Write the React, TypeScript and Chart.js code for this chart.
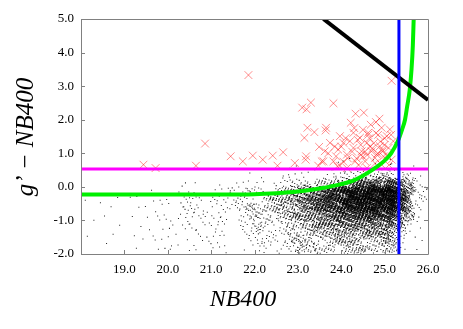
import React, { useEffect, useRef } from "react";
import { Chart, registerables } from "chart.js";

Chart.register(...registerables);

// ---- axis ticks ----
const xTickValues = [19, 20, 21, 22, 23, 24, 25, 26];
const yTickValues = [-2, -1, 0, 1, 2, 3, 4, 5];

// ---- red crosses (candidates): NB400 magnitude, g' - NB400 colour ----
const crossX = [
  21.86, 19.44, 19.72, 20.65, 20.86, 21.45, 21.73, 21.96, 22.19, 22.42, 22.66, 22.53,
  22.93, 23.18, 23.10, 23.20, 23.22, 23.15, 23.30, 23.82, 23.38, 23.65, 23.64, 23.49,
  23.62, 23.47, 23.59, 23.91, 24.33, 24.52, 24.22, 24.88, 24.80, 25.16, 23.19, 23.55,
  23.97, 24.05, 23.93, 23.88, 23.97, 24.28, 24.43, 24.59, 24.62, 24.93, 25.12, 25.05,
  24.20, 24.28, 24.13, 24.47, 24.70, 24.82, 24.89, 25.09, 25.20, 24.32, 24.55, 24.78,
  24.97, 24.93, 25.16, 24.59, 24.13, 24.84, 23.82, 23.74, 24.38, 24.66, 24.50, 25.00,
  24.00, 24.10, 24.25, 24.35, 24.45, 24.55, 24.65, 24.75, 24.85, 24.95, 25.05, 25.15,
  24.05, 24.40, 24.60, 24.72, 24.90, 25.10, 24.30, 24.50, 24.68, 24.80, 25.00, 24.15,
  24.45, 24.62, 24.78, 24.95, 23.70, 23.85,
];
const crossY = [
  3.33, 0.66, 0.56, 0.63, 1.29, 0.91, 0.76, 0.93, 0.81, 0.93, 1.03, 0.63,
  0.71, 0.81, 2.36, 2.31, 1.76, 1.46, 2.51, 2.49, 1.63, 1.76, 1.68, 1.19,
  1.06, 0.63, 0.76, 0.61, 2.18, 2.21, 1.91, 2.03, 1.93, 3.16, 0.91, 0.76,
  1.51, 1.31, 1.11, 0.91, 0.63, 1.61, 1.46, 1.31, 1.61, 1.76, 1.71, 1.51,
  1.36, 1.16, 0.96, 1.06, 1.06, 0.96, 1.21, 1.16, 1.36, 0.76, 0.76, 0.86,
  0.91, 0.66, 0.81, 0.56, 0.56, 1.00, 0.76, 1.31, 1.40, 1.20, 0.90, 1.45,
  1.20, 1.45, 1.05, 0.85, 1.25, 1.05, 1.45, 1.30, 1.55, 1.10, 0.95, 1.55,
  0.75, 0.65, 0.95, 1.15, 1.35, 0.65, 1.75, 1.70, 1.85, 1.60, 1.25, 0.85,
  0.95, 1.55, 0.70, 1.05, 1.00, 1.20,
];

// ---- black dots: counts of sources read per cell (columns x rows) ----
const dotXEdges = [18, 18.5, 19, 19.5, 20, 20.5, 21, 21.5, 22, 22.5, 23, 23.5, 24, 24.5, 25, 25.35, 25.6, 26];
const dotYEdges = [1.0, 0.75, 0.5, 0.25, 0, -0.25, -0.5, -0.75, -1.0, -1.25, -1.5, -1.75, -2.0];
const dotCounts = [
  [0, 0, 0, 0, 0, 1, 1, 0, 1, 1, 0, 0],
  [0, 0, 0, 0, 1, 1, 1, 1, 1, 1, 1, 0],
  [0, 0, 0, 0, 1, 2, 2, 2, 1, 2, 1, 1],
  [0, 0, 0, 0, 1, 3, 3, 3, 3, 2, 2, 1],
  [0, 0, 0, 1, 2, 4, 4, 4, 3, 3, 2, 2],
  [0, 0, 0, 1, 3, 6, 6, 5, 5, 4, 3, 2],
  [0, 0, 1, 1, 5, 9, 8, 8, 7, 5, 4, 3],
  [0, 0, 1, 2, 9, 15, 14, 12, 10, 8, 6, 4],
  [0, 0, 1, 4, 18, 28, 25, 20, 16, 13, 10, 7],
  [0, 1, 2, 8, 45, 70, 60, 45, 32, 22, 15, 10],
  [0, 1, 4, 18, 110, 160, 140, 95, 62, 42, 28, 20],
  [0, 2, 6, 45, 250, 300, 250, 160, 100, 62, 40, 28],
  [1, 3, 12, 110, 420, 450, 380, 240, 140, 85, 52, 35],
  [1, 4, 20, 180, 500, 500, 430, 260, 150, 85, 50, 35],
  [1, 3, 15, 140, 360, 360, 290, 170, 90, 50, 32, 20],
  [0, 1, 5, 30, 80, 80, 50, 25, 12, 7, 4, 3],
  [0, 1, 2, 5, 12, 14, 9, 5, 3, 2, 1, 1],
];

// ---- selection curves ----
const greenX = [18.0, 21.2, 22.0, 22.5, 23.0, 23.5, 24.0, 24.3, 24.6, 24.8, 25.0, 25.15, 25.3, 25.4, 25.47, 25.52, 25.58, 25.62, 25.65, 25.67];
const greenY = [-0.23, -0.23, -0.22, -0.19, -0.14, -0.05, 0.08, 0.2, 0.41, 0.58, 0.78, 1.0, 1.35, 1.7, 2.0, 2.4, 2.9, 3.5, 4.2, 5.0];
const magentaX = [18, 26];
const magentaY = [0.53, 0.53];
const blueX = [25.33, 25.33];
const blueY = [-2, 5];
const blackX = [23.59, 26.0];
const blackY = [5.0, 2.59];

const SERIF = '"Liberation Serif", "DejaVu Serif", serif';

// low-discrepancy (Kronecker) layout of each cell's counted sources; a tent
// spread over neighbouring cells so the cell edges blend smoothly
const G4 = 1.1673039782614187;
const A1 = 1 / G4, A2 = 1 / (G4 * G4), A3 = 1 / (G4 * G4 * G4), A4 = 1 / (G4 * G4 * G4 * G4);
const frac = (v: number) => v - Math.floor(v);

function buildDots() {
  const pts: { x: number; y: number }[] = [];
  let m = 1;
  for (let c = 0; c < dotCounts.length; c++) {
    const x0 = dotXEdges[c], x1 = dotXEdges[c + 1];
    const w = x1 - x0;
    for (let r = 0; r < dotCounts[c].length; r++) {
      const yTop = dotYEdges[r], yBot = dotYEdges[r + 1];
      const h = yTop - yBot;
      for (let k = 0; k < dotCounts[c][r]; k++) {
        const n = (m * 7919) % 1000003;
        const u1 = frac(0.5 + n * A1), u2 = frac(0.5 + n * A2);
        const u3 = frac(0.5 + n * A3), u4 = frac(0.5 + n * A4);
        const x = x0 + w * (u1 + u2 - 0.5);
        const y = yBot + h * (0.5 + 0.8 * (u3 + u4 - 1));
        if (x >= 18 && x <= 26 && y >= -2) pts.push({ x, y });
        m++;
      }
    }
  }
  return pts;
}

const zip = (xs: number[], ys: number[]) => xs.map((x, i) => ({ x, y: ys[i] }));

const framePlugin = {
  id: "frameAndTitles",
  afterDraw(chart: any) {
    const { ctx, chartArea } = chart;
    const { left, right, top, bottom } = chartArea;
    const xs = chart.scales.x, ys = chart.scales.y;
    ctx.save();
    ctx.strokeStyle = "#808080";
    ctx.lineWidth = 1;
    ctx.beginPath();
    ctx.rect(Math.round(left) + 0.5, Math.round(top) + 0.5, Math.round(right - left), Math.round(bottom - top));
    ctx.stroke();
    ctx.beginPath();
    for (const v of xTickValues) {
      const px = Math.round(xs.getPixelForValue(v)) + 0.5;
      ctx.moveTo(px, bottom);
      ctx.lineTo(px, bottom - 4);
    }
    for (const v of yTickValues) {
      const py = Math.round(ys.getPixelForValue(v)) + 0.5;
      ctx.moveTo(left, py);
      ctx.lineTo(left + 4, py);
      ctx.moveTo(right, py);
      ctx.lineTo(right - 4, py);
    }
    ctx.stroke();

    ctx.fillStyle = "#000";
    ctx.font = `italic 24px ${SERIF}`;
    ctx.textAlign = "center";
    ctx.textBaseline = "alphabetic";
    ctx.fillText("NB400", 243, 306);

    ctx.translate(33, 137);
    ctx.rotate(-Math.PI / 2);
    ctx.font = `italic 25px ${SERIF}`;
    ctx.fillText("g\u2019\u2009\u2212 NB400", 0, 0);
    ctx.restore();
  },
};

export default function App() {
  const ref = useRef<HTMLCanvasElement | null>(null);
  useEffect(() => {
    document.body.style.margin = "0";
    const canvas = ref.current!;
    const chart = new Chart(canvas, {
      type: "scatter",
      data: {
        datasets: [
          {
            data: buildDots(),
            pointStyle: "rect",
            pointRadius: 0.72,
            backgroundColor: "rgba(0,0,0,0.85)",
            borderWidth: 0,
            order: 6,
          } as any,
          {
            data: zip(crossX, crossY),
            pointStyle: "crossRot",
            pointRadius: 5.5,
            borderColor: "rgba(255,0,0,0.45)",
            borderWidth: 1,
            order: 5,
          },
          {
            data: zip(magentaX, magentaY),
            showLine: true,
            pointRadius: 0,
            borderColor: "#ff00ff",
            borderWidth: 3,
            order: 4,
            clip: 0,
          } as any,
          {
            data: zip(greenX, greenY),
            showLine: true,
            pointRadius: 0,
            borderColor: "#00f000",
            borderWidth: 4,
            cubicInterpolationMode: "monotone",
            order: 3,
            clip: 0,
          } as any,
          {
            data: zip(blackX, blackY),
            showLine: true,
            pointRadius: 0,
            borderColor: "#000000",
            borderWidth: 4,
            order: 2,
            clip: 0,
          } as any,
          {
            data: zip(blueX, blueY),
            showLine: true,
            pointRadius: 0,
            borderColor: "#0000ff",
            borderWidth: 3,
            order: 1,
            clip: 0,
          } as any,
        ],
      },
      options: {
        animation: false,
        responsive: false,
        devicePixelRatio: 1,
        events: [],
        layout: { padding: { top: 19, right: 35, left: 0, bottom: 0 } },
        plugins: { legend: { display: false }, tooltip: { enabled: false } },
        scales: {
          x: {
            type: "linear",
            min: 18,
            max: 26,
            grid: { display: false, drawTicks: false },
            border: { display: false },
            afterBuildTicks: (s: any) => {
              s.ticks = xTickValues.map((v) => ({ value: v }));
            },
            afterFit: (s: any) => {
              s.height = 75;
            },
            ticks: {
              padding: 8,
              maxRotation: 0,
              autoSkip: false,
              color: "#000",
              font: { family: SERIF, size: 13 },
              callback: (v: any) => Number(v).toFixed(1),
            },
          },
          y: {
            type: "linear",
            min: -2,
            max: 5,
            grid: { display: false, drawTicks: false },
            border: { display: false },
            afterBuildTicks: (s: any) => {
              s.ticks = yTickValues.map((v) => ({ value: v }));
            },
            afterFit: (s: any) => {
              s.width = 81;
            },
            ticks: {
              padding: 7,
              color: "#000",
              font: { family: SERIF, size: 13 },
              callback: (v: any) => Number(v).toFixed(1),
            },
          },
        },
      },
      plugins: [framePlugin],
    } as any);
    return () => chart.destroy();
  }, []);
  return (
    <div style={{ width: 463, height: 329 }}>
      <canvas ref={ref} width={463} height={329} />
    </div>
  );
}
